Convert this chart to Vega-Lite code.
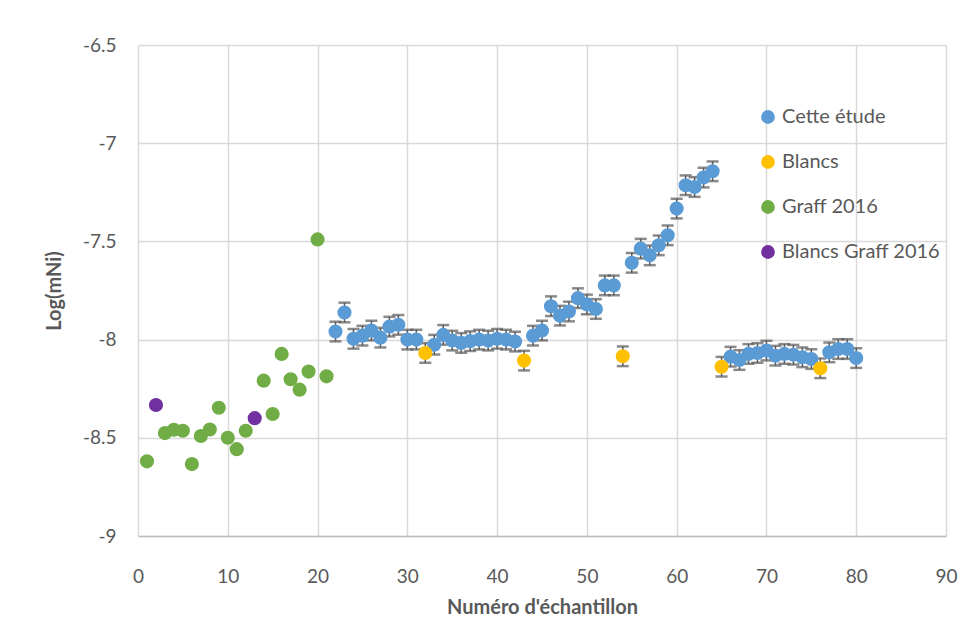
{
  "$schema": "https://vega.github.io/schema/vega-lite/v6.json",
  "width": 808,
  "height": 491,
  "autosize": "none",
  "padding": {"left": 138, "top": 45, "right": 32, "bottom": 90},
  "background": "white",
  "config": {
    "view": {"stroke": null},
    "font": "Lato"
  },
  "data": {
    "values": [
      {"series": "Cette étude", "x": 22, "y": -7.959, "e": 0.05},
      {"series": "Cette étude", "x": 23, "y": -7.862, "e": 0.05},
      {"series": "Cette étude", "x": 24, "y": -7.996, "e": 0.05},
      {"series": "Cette étude", "x": 25, "y": -7.98, "e": 0.05},
      {"series": "Cette étude", "x": 26, "y": -7.954, "e": 0.05},
      {"series": "Cette étude", "x": 27, "y": -7.99, "e": 0.05},
      {"series": "Cette étude", "x": 28, "y": -7.934, "e": 0.05},
      {"series": "Cette étude", "x": 29, "y": -7.925, "e": 0.05},
      {"series": "Cette étude", "x": 30, "y": -8.0, "e": 0.05},
      {"series": "Cette étude", "x": 31, "y": -8.0, "e": 0.05},
      {"series": "Cette étude", "x": 33, "y": -8.026, "e": 0.05},
      {"series": "Cette étude", "x": 34, "y": -7.976, "e": 0.05},
      {"series": "Cette étude", "x": 35, "y": -8.005, "e": 0.05},
      {"series": "Cette étude", "x": 36, "y": -8.017, "e": 0.05},
      {"series": "Cette étude", "x": 37, "y": -8.008, "e": 0.05},
      {"series": "Cette étude", "x": 38, "y": -8.0, "e": 0.05},
      {"series": "Cette étude", "x": 39, "y": -8.005, "e": 0.05},
      {"series": "Cette étude", "x": 40, "y": -7.996, "e": 0.05},
      {"series": "Cette étude", "x": 41, "y": -8.0, "e": 0.05},
      {"series": "Cette étude", "x": 42, "y": -8.01, "e": 0.05},
      {"series": "Cette étude", "x": 44, "y": -7.98, "e": 0.05},
      {"series": "Cette étude", "x": 45, "y": -7.954, "e": 0.05},
      {"series": "Cette étude", "x": 46, "y": -7.83, "e": 0.05},
      {"series": "Cette étude", "x": 47, "y": -7.878, "e": 0.05},
      {"series": "Cette étude", "x": 48, "y": -7.857, "e": 0.05},
      {"series": "Cette étude", "x": 49, "y": -7.789, "e": 0.05},
      {"series": "Cette étude", "x": 50, "y": -7.821, "e": 0.05},
      {"series": "Cette étude", "x": 51, "y": -7.844, "e": 0.05},
      {"series": "Cette étude", "x": 52, "y": -7.724, "e": 0.05},
      {"series": "Cette étude", "x": 53, "y": -7.724, "e": 0.05},
      {"series": "Cette étude", "x": 55, "y": -7.609, "e": 0.05},
      {"series": "Cette étude", "x": 56, "y": -7.537, "e": 0.05},
      {"series": "Cette étude", "x": 57, "y": -7.571, "e": 0.05},
      {"series": "Cette étude", "x": 58, "y": -7.52, "e": 0.05},
      {"series": "Cette étude", "x": 59, "y": -7.469, "e": 0.05},
      {"series": "Cette étude", "x": 60, "y": -7.333, "e": 0.05},
      {"series": "Cette étude", "x": 61, "y": -7.214, "e": 0.05},
      {"series": "Cette étude", "x": 62, "y": -7.223, "e": 0.05},
      {"series": "Cette étude", "x": 63, "y": -7.175, "e": 0.05},
      {"series": "Cette étude", "x": 64, "y": -7.143, "e": 0.05},
      {"series": "Cette étude", "x": 66, "y": -8.087, "e": 0.05},
      {"series": "Cette étude", "x": 67, "y": -8.104, "e": 0.05},
      {"series": "Cette étude", "x": 68, "y": -8.073, "e": 0.05},
      {"series": "Cette étude", "x": 69, "y": -8.068, "e": 0.05},
      {"series": "Cette étude", "x": 70, "y": -8.056, "e": 0.05},
      {"series": "Cette étude", "x": 71, "y": -8.082, "e": 0.05},
      {"series": "Cette étude", "x": 72, "y": -8.073, "e": 0.05},
      {"series": "Cette étude", "x": 73, "y": -8.077, "e": 0.05},
      {"series": "Cette étude", "x": 74, "y": -8.09, "e": 0.05},
      {"series": "Cette étude", "x": 75, "y": -8.099, "e": 0.05},
      {"series": "Cette étude", "x": 77, "y": -8.065, "e": 0.05},
      {"series": "Cette étude", "x": 78, "y": -8.048, "e": 0.05},
      {"series": "Cette étude", "x": 79, "y": -8.048, "e": 0.05},
      {"series": "Cette étude", "x": 80, "y": -8.094, "e": 0.05},
      {"series": "Blancs", "x": 32, "y": -8.068, "e": 0.05},
      {"series": "Blancs", "x": 43, "y": -8.107, "e": 0.05},
      {"series": "Blancs", "x": 54, "y": -8.085, "e": 0.05},
      {"series": "Blancs", "x": 65, "y": -8.138, "e": 0.05},
      {"series": "Blancs", "x": 76, "y": -8.146, "e": 0.05},
      {"series": "Graff 2016", "x": 1, "y": -8.62},
      {"series": "Graff 2016", "x": 3, "y": -8.476},
      {"series": "Graff 2016", "x": 4, "y": -8.459},
      {"series": "Graff 2016", "x": 5, "y": -8.464},
      {"series": "Graff 2016", "x": 6, "y": -8.634},
      {"series": "Graff 2016", "x": 7, "y": -8.491},
      {"series": "Graff 2016", "x": 8, "y": -8.458},
      {"series": "Graff 2016", "x": 9, "y": -8.347},
      {"series": "Graff 2016", "x": 10, "y": -8.5},
      {"series": "Graff 2016", "x": 11, "y": -8.558},
      {"series": "Graff 2016", "x": 12, "y": -8.464},
      {"series": "Graff 2016", "x": 14, "y": -8.209},
      {"series": "Graff 2016", "x": 15, "y": -8.379},
      {"series": "Graff 2016", "x": 16, "y": -8.073},
      {"series": "Graff 2016", "x": 17, "y": -8.202},
      {"series": "Graff 2016", "x": 18, "y": -8.255},
      {"series": "Graff 2016", "x": 19, "y": -8.163},
      {"series": "Graff 2016", "x": 20, "y": -7.49},
      {"series": "Graff 2016", "x": 21, "y": -8.187},
      {"series": "Blancs Graff 2016", "x": 2, "y": -8.333},
      {"series": "Blancs Graff 2016", "x": 13, "y": -8.4}
    ]
  },
  "encoding": {
    "x": {
      "field": "x",
      "type": "quantitative",
      "scale": {"domain": [0, 90], "nice": false, "zero": false},
      "axis": {
        "values": [0, 10, 20, 30, 40, 50, 60, 70, 80, 90],
        "title": "Numéro d'échantillon",
        "titleFontSize": 20,
        "titleFontWeight": "bold",
        "titleColor": "#595959",
        "titlePadding": 11,
        "labelFontSize": 19,
        "labelColor": "#595959",
        "labelPadding": 31,
        "ticks": false,
        "domainColor": "#bfbfbf",
        "domainWidth": 1.5,
        "gridColor": "#d9d9d9",
        "gridWidth": 1.5,
        "labelFlush": false
      }
    },
    "y": {
      "field": "y",
      "type": "quantitative",
      "scale": {"domain": [-9, -6.5], "nice": false, "zero": false},
      "axis": {
        "values": [-9, -8.5, -8, -7.5, -7, -6.5],
        "labelExpr": "datum.value + ''",
        "title": "Log(mNi)",
        "titleFontSize": 20,
        "titleFontWeight": "bold",
        "titleColor": "#595959",
        "titlePadding": 18,
        "labelFontSize": 19,
        "labelColor": "#595959",
        "labelPadding": 22,
        "ticks": false,
        "domain": false,
        "gridColor": "#d9d9d9",
        "gridWidth": 1.5,
        "labelFlush": false
      }
    }
  },
  "layer": [
    {
      "transform": [{"filter": {"field": "series", "oneOf": ["Cette étude", "Blancs"]}}],
      "mark": {
        "type": "errorbar",
        "ticks": {"size": 12, "thickness": 2.5, "color": "#595959"},
        "rule": {"strokeWidth": 1.5, "color": "#595959"}
      },
      "encoding": {
        "y": {"field": "y", "type": "quantitative"},
        "yError": {"field": "e"}
      }
    },
    {
      "mark": {"type": "point", "filled": true, "shape": "circle", "size": 200, "opacity": 1},
      "encoding": {
        "color": {
          "field": "series",
          "type": "nominal",
          "sort": null,
          "scale": {
            "domain": ["Cette étude", "Blancs", "Graff 2016", "Blancs Graff 2016"],
            "range": ["#5B9BD5", "#FFC000", "#70AD47", "#7030A0"]
          },
          "legend": {
            "title": null,
            "orient": "none",
            "legendX": 620,
            "legendY": 62,
            "symbolType": "circle",
            "symbolSize": 190,
            "symbolStrokeWidth": 0,
            "labelFontSize": 20,
            "labelColor": "#595959",
            "labelOffset": 4,
            "rowPadding": 25,
            "labelLimit": 300
          }
        }
      }
    }
  ]
}
